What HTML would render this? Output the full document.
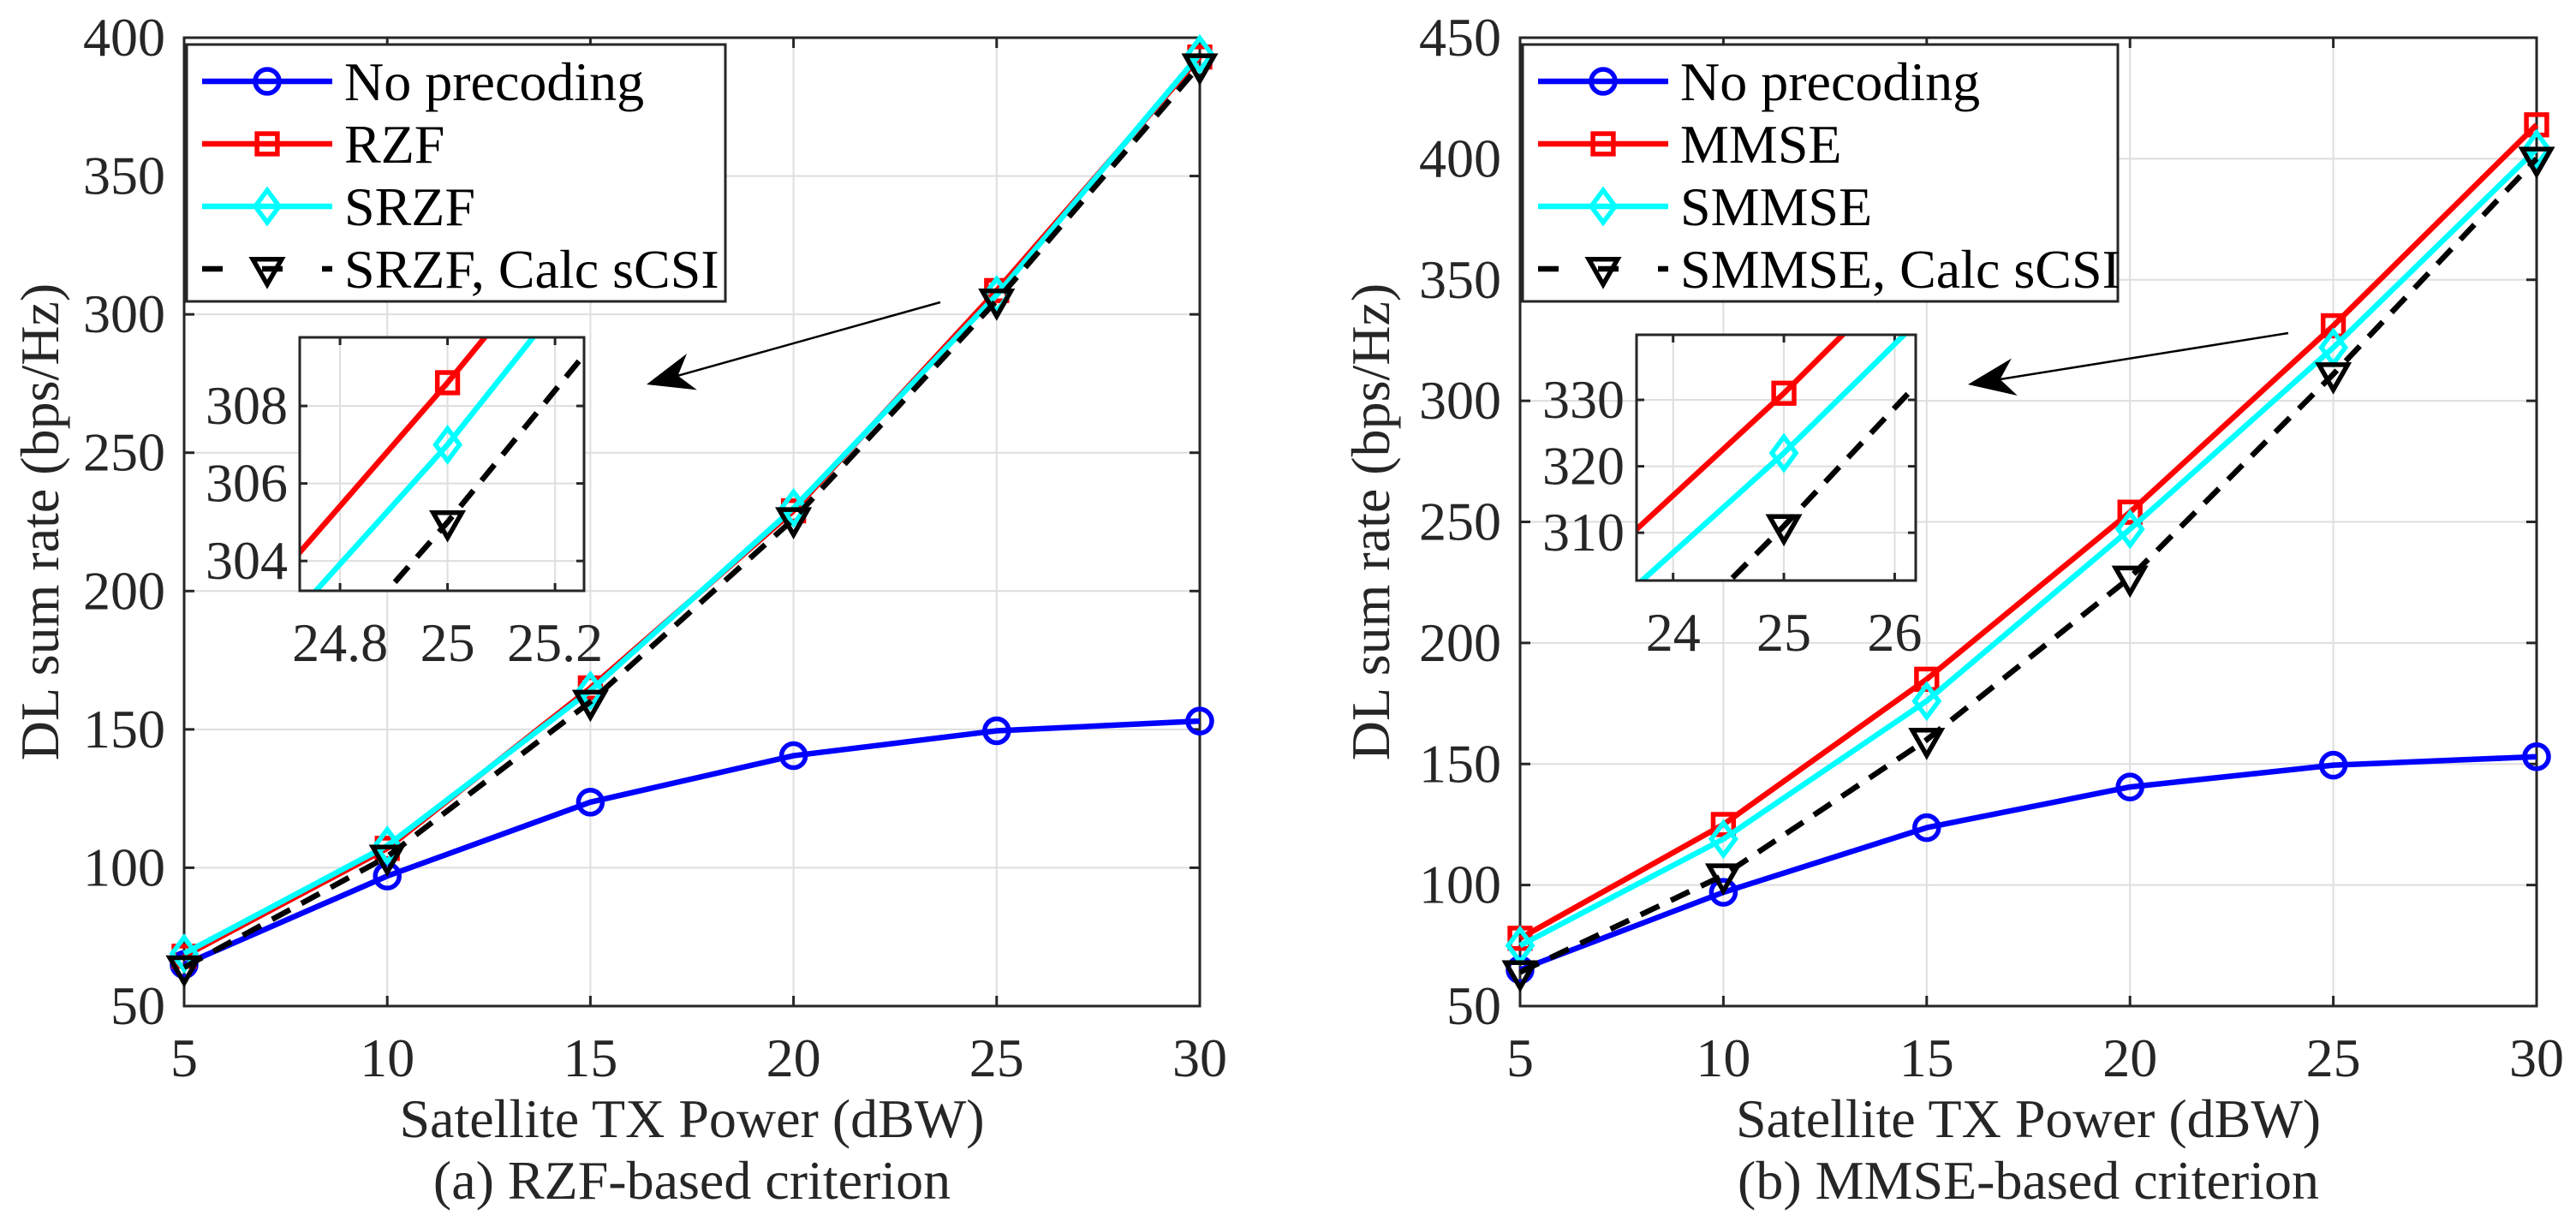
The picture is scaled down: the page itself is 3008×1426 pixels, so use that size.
<!DOCTYPE html>
<html><head><meta charset="utf-8"><style>
html,body{margin:0;padding:0;background:#fff;width:3008px;height:1426px;overflow:hidden;}
svg{display:block;}
svg text{font-family:"Liberation Serif","Times New Roman",serif;}
</style></head><body>
<svg id="fig" width="3008" height="1426" viewBox="0 0 3008 1426" xmlns="http://www.w3.org/2000/svg" font-family="Liberation Serif, serif" overflow="hidden"></svg>
<script>
// ---- data ----
const xValues = [5, 10, 15, 20, 25, 30];
const noPrecoding = [65, 97, 123.7, 140.5, 149.5, 153];
const rzf = [68, 107, 165, 229, 308.6, 393];
const srzf = [69, 108, 164, 230, 307, 394];
const srzfCalc = [64, 104, 160, 226, 305, 390];
const mmse = [78, 125, 185, 254, 331, 414];
const smmse = [75, 119, 176, 247, 322, 404];
const smmseCalc = [64, 104, 160, 227, 311, 400];
const xTicks = [5, 10, 15, 20, 25, 30];
const yTicksA = [50, 100, 150, 200, 250, 300, 350, 400];
const yTicksB = [50, 100, 150, 200, 250, 300, 350, 400, 450];
const insetXTicksA = [24.8, 25, 25.2];
const insetYTicksA = [304, 306, 308];
const insetXTicksB = [24, 25, 26];
const insetYTicksB = [310, 320, 330];
const legendA = ["No precoding", "RZF", "SRZF", "SRZF, Calc sCSI"];
const legendB = ["No precoding", "MMSE", "SMMSE", "SMMSE, Calc sCSI"];

const NS = "http://www.w3.org/2000/svg";
const svg = document.getElementById("fig");
const FONT = "Liberation Serif, Times New Roman, serif";
function el(tag, attrs, parent, text) {
  const e = document.createElementNS(NS, tag);
  for (const k in attrs) e.setAttribute(k, attrs[k]);
  if (tag === "text") e.setAttribute("font-family", FONT);
  if (text !== undefined) e.textContent = text;
  (parent || svg).appendChild(e);
  return e;
}
function scale(d0, d1, r0, r1) { return v => r0 + (v - d0) * (r1 - r0) / (d1 - d0); }

const styles = [
  {color: "#0000ff", marker: "circle", dash: null},
  {color: "#ff0000", marker: "square", dash: null},
  {color: "#00ffff", marker: "diamond", dash: null},
  {color: "#000000", marker: "tri", dash: "24 15"}
];

function marker(g, type, cx, cy, color, s) {
  let m;
  if (type === "circle") m = el("circle", {cx: cx, cy: cy, r: s, fill: "none", stroke: color, "stroke-width": 5.5}, g);
  else if (type === "square") m = el("rect", {x: cx - s * 0.85, y: cy - s * 0.85, width: 1.7 * s, height: 1.7 * s, fill: "none", stroke: color, "stroke-width": 5.5}, g);
  else if (type === "diamond") m = el("polygon", {points: `${cx},${cy - s * 1.35} ${cx + s},${cy} ${cx},${cy + s * 1.35} ${cx - s},${cy}`, fill: "none", stroke: color, "stroke-width": 5.5}, g);
  else m = el("polygon", {points: `${cx - s * 1.2},${cy - s * 0.8} ${cx + s * 1.2},${cy - s * 0.8} ${cx},${cy + s * 1.3}`, fill: "none", stroke: color, "stroke-width": 5.5}, g);
  return m;
}

function drawSeries(g, sx, sy, ys, st, name, msize, clip) {
  const pts = xValues.map((x, i) => `${sx(x)},${sy(ys[i])}`).join(" ");
  const a = {points: pts, fill: "none", stroke: st.color, "stroke-width": 6.5, "stroke-linejoin": "round"};
  if (st.dash) a["stroke-dasharray"] = st.dash;
  if (clip) a["clip-path"] = clip;
  const pl = el("polyline", a, g);
  
  
  xValues.forEach((x, i) => {
    const mg = el("g", clip ? {"clip-path": clip} : {}, g);
    const m = marker(mg, st.marker, sx(x), sy(ys[i]), st.color, msize);
    
    
  });
}

function panel(cfg) {
  const g = el("g", {});
  
  
  const L = cfg.left, R = cfg.right, T = 44, B = 1175;
  const sx = scale(5, 30, L, R);
  const sy = scale(cfg.yTicks[0], cfg.yTicks[cfg.yTicks.length - 1], B, T);
  xTicks.forEach(t => { const l = el("line", {x1: sx(t), x2: sx(t), y1: T, y2: B, stroke: "#dedede", "stroke-width": 2}, g);
      });
  cfg.yTicks.forEach(t => { const l = el("line", {x1: L, x2: R, y1: sy(t), y2: sy(t), stroke: "#dedede", "stroke-width": 2}, g);
      });
  xTicks.forEach(t => {
    el("line", {x1: sx(t), x2: sx(t), y1: B, y2: B - 12, stroke: "#262626", "stroke-width": 3}, g);
    el("line", {x1: sx(t), x2: sx(t), y1: T, y2: T + 12, stroke: "#262626", "stroke-width": 3}, g);
    const tx = el("text", {x: sx(t), y: 1257, "font-size": 64, "text-anchor": "middle", fill: "#262626"}, g, String(t));
     
  });
  cfg.yTicks.forEach(t => {
    el("line", {x1: L, x2: L + 12, y1: sy(t), y2: sy(t), stroke: "#262626", "stroke-width": 3}, g);
    el("line", {x1: R, x2: R - 12, y1: sy(t), y2: sy(t), stroke: "#262626", "stroke-width": 3}, g);
    const tx = el("text", {x: L - 22, y: sy(t) + 21, "font-size": 64, "text-anchor": "end", fill: "#262626"}, g, String(t));
     
  });
  const box = el("rect", {x: L, y: T, width: R - L, height: B - T, fill: "none", stroke: "#262626", "stroke-width": 3}, g);
   
  cfg.series.forEach((ys, i) => drawSeries(g, sx, sy, ys, styles[i], cfg.names[i], 14, null));
  const yt = el("text", {x: 0, y: 0, "font-size": 64, "text-anchor": "middle", fill: "#262626", transform: `translate(${cfg.yTitleX},${(T + B) / 2}) rotate(-90)`}, g, "DL sum rate (bps/Hz)");
   
  const xt = el("text", {x: (L + R) / 2, y: 1328, "font-size": 64, "text-anchor": "middle", fill: "#262626"}, g, "Satellite TX Power (dBW)");
   
  const cap = el("text", {x: (L + R) / 2, y: 1400, "font-size": 64, "text-anchor": "middle", fill: "#262626"}, g, cfg.caption);
   
  const lg = el("g", {}, g);
   
  el("rect", {x: cfg.leg.x, y: 52, width: cfg.leg.w, height: 300, fill: "#fff", stroke: "#262626", "stroke-width": 3}, lg);
  cfg.legend.forEach((name, i) => {
    const yy = 95 + i * 73;
    const st = styles[i];
    const ent = el("g", {}, lg);
     
    const a = {x1: cfg.leg.x + 18, x2: cfg.leg.x + 170, y1: yy, y2: yy, stroke: st.color, "stroke-width": 6.5};
    if (st.dash) a["stroke-dasharray"] = "24 46";
    el("line", a, ent);
    marker(ent, st.marker, cfg.leg.x + 94, yy, st.color, 14);
    el("text", {x: cfg.leg.x + 184, y: yy + 22, "font-size": 64, fill: "#000"}, ent, name);
  });
  const ins = cfg.inset;
  const ig = el("g", {}, g);
   
  const isx = scale(ins.x0, ins.x1, ins.L, ins.R);
  const isy = scale(ins.y0, ins.y1, ins.B, ins.T);
  el("rect", {x: ins.L, y: ins.T, width: ins.R - ins.L, height: ins.B - ins.T, fill: "#fff"}, ig);
  const cp = el("clipPath", {id: cfg.id + "-clip"}, ig);
  el("rect", {x: ins.L, y: ins.T, width: ins.R - ins.L, height: ins.B - ins.T}, cp);
  ins.xt.forEach(t => {
    el("line", {x1: isx(t), x2: isx(t), y1: ins.T, y2: ins.B, stroke: "#dedede", "stroke-width": 2}, ig);
    el("line", {x1: isx(t), x2: isx(t), y1: ins.B, y2: ins.B - 9, stroke: "#262626", "stroke-width": 3}, ig);
    el("line", {x1: isx(t), x2: isx(t), y1: ins.T, y2: ins.T + 9, stroke: "#262626", "stroke-width": 3}, ig);
    const tx = el("text", {x: isx(t), y: ins.B + 82, "font-size": 64, "text-anchor": "middle", fill: "#262626"}, ig, String(t));
     
  });
  ins.yt.forEach(t => {
    el("line", {x1: ins.L, x2: ins.R, y1: isy(t), y2: isy(t), stroke: "#dedede", "stroke-width": 2}, ig);
    el("line", {x1: ins.L, x2: ins.L + 9, y1: isy(t), y2: isy(t), stroke: "#262626", "stroke-width": 3}, ig);
    el("line", {x1: ins.R, x2: ins.R - 9, y1: isy(t), y2: isy(t), stroke: "#262626", "stroke-width": 3}, ig);
    const tx = el("text", {x: ins.L - 14, y: isy(t) + 21, "font-size": 64, "text-anchor": "end", fill: "#262626"}, ig, String(t));
     
  });
  cfg.series.forEach((ys, i) => { if (i > 0) drawSeries(ig, isx, isy, ys, styles[i], cfg.names[i] + '-inset', 14, `url(#${cfg.id}-clip)`); });
  el("rect", {x: ins.L, y: ins.T, width: ins.R - ins.L, height: ins.B - ins.T, fill: "none", stroke: "#262626", "stroke-width": 3}, ig);
  const ar = el("g", {}, g);
   
  const a0 = cfg.arrow;
  const dx = a0[2] - a0[0], dy = a0[3] - a0[1], len = Math.hypot(dx, dy), ux = dx / len, uy = dy / len;
  el("line", {x1: a0[0], y1: a0[1], x2: a0[2] - ux * 30, y2: a0[3] - uy * 30, stroke: "#000", "stroke-width": 2.5}, ar);
  const bx = a0[2] - ux * 55, by = a0[3] - uy * 55, nx = -uy, ny = ux;
  el("polygon", {points: `${a0[2]},${a0[3]} ${bx + nx * 22},${by + ny * 22} ${a0[2] - ux * 38},${a0[3] - uy * 38} ${bx - nx * 22},${by - ny * 22}`, fill: "#000"}, ar);
}

panel({id: "panel-a-rzf", left: 215, right: 1401, yTicks: yTicksA, series: [noPrecoding, rzf, srzf, srzfCalc],
  names: ["no-precoding", "rzf", "srzf", "srzf-calc-scsi"], legend: legendA, yTitleX: 68, caption: "(a) RZF-based criterion",
  leg: {x: 218, w: 629},
  inset: {L: 350, R: 682, T: 394, B: 690, x0: 24.725, x1: 25.254, y0: 303.23, y1: 309.77, xt: insetXTicksA, yt: insetYTicksA},
  arrow: [1098, 353, 755, 449]});
panel({id: "panel-b-mmse", left: 1775, right: 2962, yTicks: yTicksB, series: [noPrecoding, mmse, smmse, smmseCalc],
  names: ["no-precoding", "mmse", "smmse", "smmse-calc-scsi"], legend: legendB, yTitleX: 1622, caption: "(b) MMSE-based criterion",
  leg: {x: 1778, w: 695},
  inset: {L: 1911, R: 2237, T: 391, B: 678, x0: 23.67, x1: 26.19, y0: 302.8, y1: 339.8, xt: insetXTicksB, yt: insetYTicksB},
  arrow: [2672, 389, 2298, 449]});
</script>
</body></html>
